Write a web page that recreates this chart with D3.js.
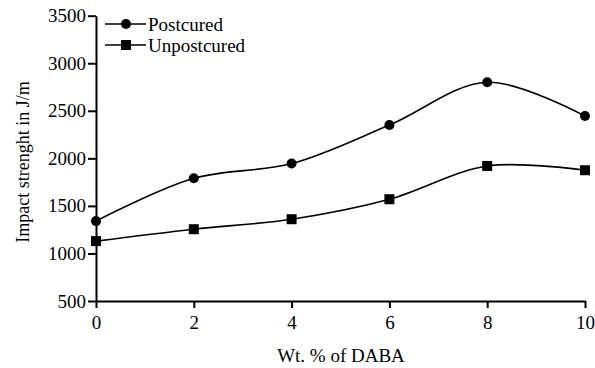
<!DOCTYPE html>
<html>
<head>
<meta charset="utf-8">
<script src="https://cdn.jsdelivr.net/npm/d3@7"></script>
<style>
  body { margin: 0; background: #fff; }
  svg text { font-family: "Times New Roman", "Liberation Serif", "DejaVu Serif", serif; fill: #000; }
</style>
</head>
<body>
<div id="chart"></div>
<script>
var daba = [0, 2, 4, 6, 8, 10]
var postcured = [1340, 1790, 1945, 2350, 2800, 2445]
var unpostcured = [1130, 1255, 1360, 1570, 1920, 1875]
var xTicks = [0, 2, 4, 6, 8, 10]
var yTicks = [500, 1000, 1500, 2000, 2500, 3000, 3500]

var width = 595, height = 368
var fontSize = 19

var svg = d3.select('#chart').append('svg')
    .attr('width', width)
    .attr('height', height)

var x = d3.scaleLinear().domain([0, 10]).range([96, 585]),
    y = d3.scaleLinear().domain([500, 3500]).range([301, 15.7])

// axes
svg.append('g')
    .attr('transform', 'translate(0,' + y(500) + ')')
    .call(d3.axisBottom(x).tickValues(xTicks).tickSize(7).tickPadding(8).tickSizeOuter(0))
svg.append('g')
    .attr('transform', 'translate(' + x(0) + ',0)')
    .call(d3.axisLeft(y).tickValues(yTicks).tickFormat(d3.format('d')).tickSize(8).tickPadding(2).tickSizeOuter(0))

svg.selectAll('.domain, .tick line').attr('stroke', '#000').attr('stroke-width', 2)
svg.selectAll('.tick text').attr('font-size', fontSize)

// titles
svg.append('text')
    .attr('x', 341).attr('y', 362)
    .attr('text-anchor', 'middle')
    .attr('font-size', fontSize)
    .text('Wt. % of DABA')
svg.append('text')
    .attr('transform', 'translate(29,162) rotate(-90)')
    .attr('text-anchor', 'middle')
    .attr('font-size', 18)
    .text('Impact strenght in J/m')

var line = d3.line()
    .curve(d3.curveCatmullRom.alpha(0.5))
    .x(function(d) { return x(d[0]) })
    .y(function(d) { return y(d[1]) })

var series = [
  {name: 'Postcured', values: d3.zip(daba, postcured), shape: 'circle'},
  {name: 'Unpostcured', values: d3.zip(daba, unpostcured), shape: 'square'}
]

function marker(g, shape, cx, cy) {
  if (shape == 'circle') {
    g.append('circle').attr('cx', cx).attr('cy', cy).attr('r', 5).attr('fill', '#000')
  } else {
    g.append('rect').attr('x', cx - 5).attr('y', cy - 5).attr('width', 10).attr('height', 10).attr('fill', '#000')
  }
}

series.forEach(function(s, i) {
  svg.append('path')
      .datum(s.values)
      .attr('fill', 'none')
      .attr('stroke', '#000')
      .attr('stroke-width', 1.6)
      .attr('d', line)
  var g = svg.append('g')
  s.values.forEach(function(d) { marker(g, s.shape, x(d[0]), y(d[1])) })

  // legend
  var ly = 24 + i * 21
  svg.append('line')
      .attr('x1', 105).attr('x2', 146)
      .attr('y1', ly).attr('y2', ly)
      .attr('stroke', '#000').attr('stroke-width', 1.6)
  marker(svg, s.shape, 126, ly)
  svg.append('text')
      .attr('x', 148).attr('y', ly + 6.5)
      .attr('font-size', fontSize)
      .text(s.name)
})
</script>
</body>
</html>
